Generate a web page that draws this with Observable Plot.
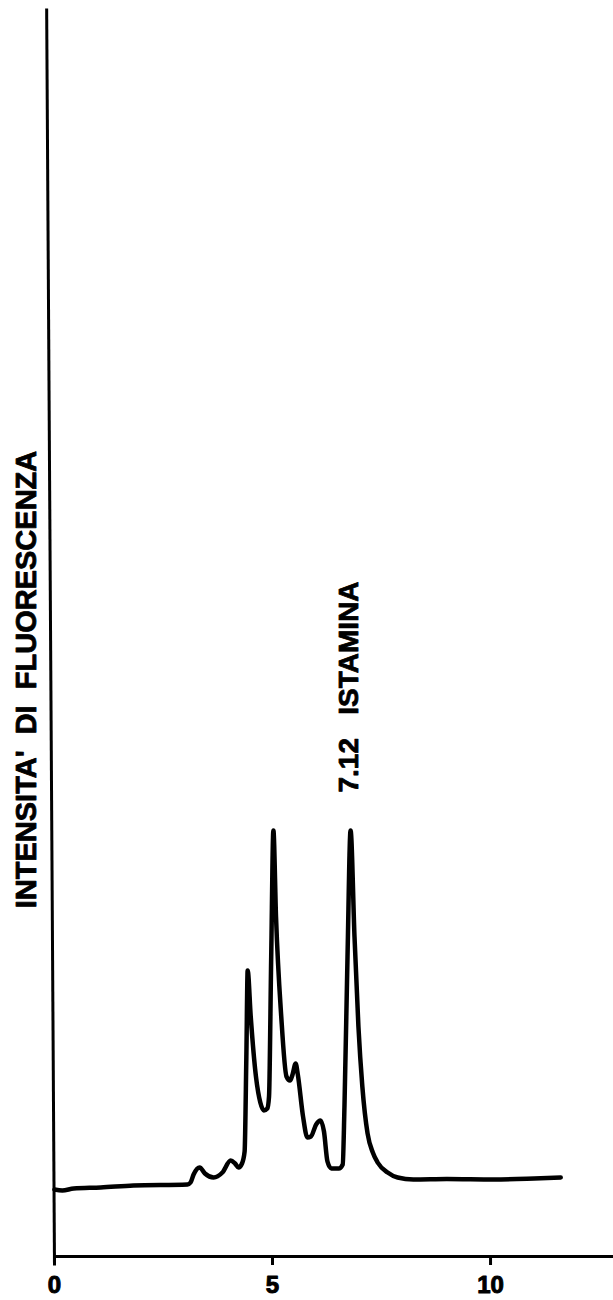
<!DOCTYPE html>
<html><head><meta charset="utf-8">
<script src="https://cdn.jsdelivr.net/npm/d3@7"></script>
<script src="https://cdn.jsdelivr.net/npm/@observablehq/plot@0.6"></script>
<style>body{margin:0;background:#fff}</style>
</head><body><div id="chart"></div>
<script>
// Retention time (min)
const time = [0, 0.18, 0.44, 1.06, 1.81, 3.05, 3.12, 3.19, 3.33, 3.45, 3.65, 3.85, 4.04, 4.14, 4.22, 4.30, 4.36, 4.40, 4.43, 4.50, 4.62, 4.72, 4.80, 4.88, 4.92, 4.97, 5.02, 5.08, 5.20, 5.32, 5.40, 5.46, 5.53, 5.58, 5.70, 5.80, 5.88, 6.00, 6.10, 6.18, 6.26, 6.35, 6.52, 6.61, 6.65, 6.72, 6.79, 6.88, 6.97, 7.06, 7.18, 7.30, 7.41, 7.64, 7.87, 8.23, 9.0, 10.07, 11.0, 11.61];
// Fluorescence intensity (arbitrary units)
const intensity = [6.7, 6.6, 6.8, 6.9, 7.1, 7.2, 7.4, 8.2, 8.9, 8.3, 7.9, 8.4, 9.6, 9.3, 8.9, 9.3, 10.5, 20, 28.6, 24, 18, 15.4, 14.6, 14.8, 16, 30, 42.6, 34, 24, 18.0, 17.6, 18.2, 19.3, 18.2, 14, 11.9, 12.0, 13.2, 13.6, 12.5, 9.5, 8.8, 8.8, 9.2, 15, 30, 42.6, 32, 23, 17, 12.3, 10.4, 9.4, 8.4, 7.9, 7.7, 7.75, 7.7, 7.8, 7.9];
const xTicks = [0, 5, 10];
const yLabel = "INTENSITA'  DI  FLUORESCENZA";
const peakLabels = [{t: 6.79, v: 42.6, label: "7.12   ISTAMINA"}];
const xMax = 12.82;
const yMax = 124.8;

const data = time.map((t, i) => ({t, v: intensity[i]}));
const chart = Plot.plot({
  width: 613, height: 1300,
  marginLeft: 54, marginRight: 0, marginTop: 8, marginBottom: 44,
  style: {fontFamily: "'Liberation Sans', Arial, sans-serif", background: "#fff", color: "#000"},
  x: {domain: [0, xMax], axis: null},
  y: {domain: [0, yMax], axis: null},
  marks: [
    Plot.ruleY([0], {stroke: "#000", strokeWidth: 3}),
    Plot.link([{x1: 0, y1: -0.9, x2: -0.18, y2: yMax}], {x1: "x1", y1: "y1", x2: "x2", y2: "y2", stroke: "#000", strokeWidth: 3}),
    Plot.ruleX(xTicks, {x: d => d, y1: () => 0, y2: () => -0.9, stroke: "#000", strokeWidth: 3}),
    Plot.textX(xTicks, {x: d => d, text: d => String(d), frameAnchor: "bottom", lineAnchor: "top", dy: 19, fontSize: 24, fontWeight: "bold", fill: "#000", stroke: "#000", strokeWidth: 1}),
    Plot.line(data, {x: "t", y: "v", stroke: "#000", strokeWidth: 4.5, curve: "monotone-x", strokeLinejoin: "round", strokeLinecap: "round"}),
    Plot.text([yLabel], {text: d => d, frameAnchor: "left", textAnchor: "middle", rotate: -90, dx: -28, dy: 47, fontSize: 29, fontWeight: "bold", fill: "#000", stroke: "#000", strokeWidth: 0.8}),
    Plot.text(peakLabels, {x: "t", y: "v", text: "label", rotate: -90, textAnchor: "start", dx: -2, dy: -38, fontSize: 28, fontWeight: "bold", fill: "#000", stroke: "#000", strokeWidth: 0.8})
  ]
});
document.getElementById("chart").append(chart);
</script>
</body></html>
